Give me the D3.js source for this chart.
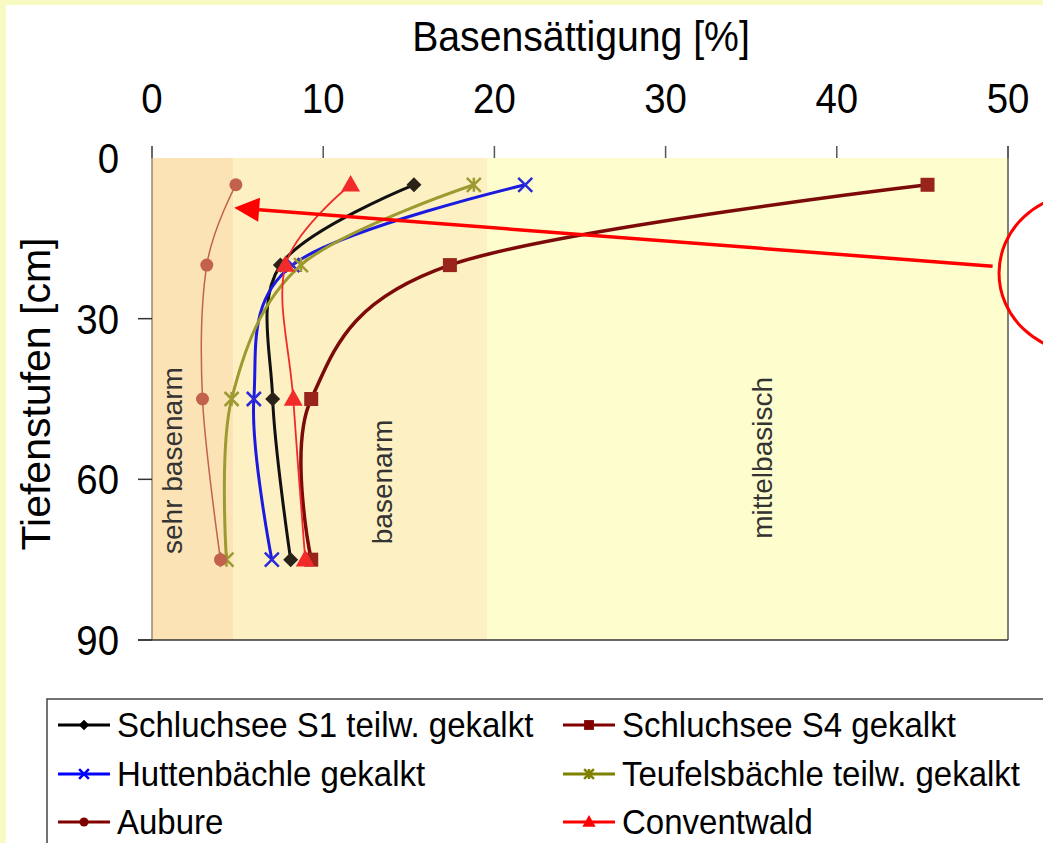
<!DOCTYPE html>
<html>
<head>
<meta charset="utf-8">
<script src="https://cdn.jsdelivr.net/npm/d3@7"></script>
<style>
  body { margin: 0; background: #f9f9c3; }
  svg { display: block; font-family: "Liberation Sans", Arial, sans-serif; }
</style>
</head>
<body>
<div id="chart"></div>
<script>
// depth steps (cm) and base saturation (%) per site
var depths = [5, 20, 45, 75];
var schluchseeS1 = [15.3, 7.5, 7.05, 8.1];
var schluchseeS4 = [45.3, 17.4, 9.3, 9.3];
var huttenbaechle = [21.8, 8.2, 5.95, 7.0];
var teufelsbaechle = [18.8, 8.7, 4.65, 4.35];
var aubure = [4.9, 3.2, 2.95, 4.0];
var conventwald = [11.6, 7.8, 8.25, 8.95];

var seriesNames = ["Schluchsee S1 teilw. gekalkt", "Schluchsee S4 gekalkt", "Huttenbächle gekalkt",
                   "Teufelsbächle teilw. gekalkt", "Aubure", "Conventwald"];

// classes of base saturation shaded behind the lines
var bandEdges = [0, 4.75, 19.6, 50];
var bandNames = ["sehr basenarm", "basenarm", "mittelbasisch"];

var xTicks = [0, 10, 20, 30, 40, 50];
var yTicks = [0, 30, 60, 90];

var width = 1043, height = 843;
var plotLeft = 152, plotRight = 1008, plotTop = 158, plotBottom = 640;

var x = d3.scaleLinear().domain([0, 50]).range([plotLeft, plotRight]);
var y = d3.scaleLinear().domain([0, 90]).range([plotTop, plotBottom]);

var svg = d3.select("#chart").append("svg")
    .attr("width", width)
    .attr("height", height);

svg.append("rect").attr("width", width).attr("height", height).attr("fill", "#f9f9c3");
svg.append("rect").attr("x", 6).attr("y", 5).attr("width", width).attr("height", height).attr("fill", "#ffffff");

// bands
var bandColors = ["#fce3b6", "#fdf0c2", "#fefdcd"];
var bands = bandNames.map(function(n, i) { return { name: n, from: bandEdges[i], to: bandEdges[i + 1] }; });
svg.append("g").selectAll("rect")
    .data(bands)
    .enter().append("rect")
    .attr("x", function(d) { return x(d.from); })
    .attr("width", function(d) { return x(d.to) - x(d.from); })
    .attr("y", y(0))
    .attr("height", y(90) - y(0))
    .attr("fill", function(d, i) { return bandColors[i]; });

// band labels (vertical)
var bandLabelPos = [[1.75, 56.5], [14.0, 60.5], [36.2, 56]];
svg.append("g").selectAll("text")
    .data(bands)
    .enter().append("text")
    .attr("transform", function(d, i) {
      return "translate(" + x(bandLabelPos[i][0]) + "," + y(bandLabelPos[i][1]) + ") rotate(-90)";
    })
    .attr("text-anchor", "middle")
    .attr("font-size", 28)
    .attr("fill", "#333")
    .text(function(d) { return d.name; });

// axes
var axisColor = "#555";
svg.append("line").attr("x1", plotLeft).attr("x2", plotLeft).attr("y1", plotTop - 12).attr("y2", plotBottom)
    .attr("stroke", "#9c8a6a").attr("stroke-width", 1.5);
svg.append("line").attr("x1", plotRight).attr("x2", plotRight).attr("y1", plotTop - 12).attr("y2", plotBottom)
    .attr("stroke", axisColor).attr("stroke-width", 1.5);
svg.append("line").attr("x1", plotLeft - 14).attr("x2", plotRight).attr("y1", plotBottom).attr("y2", plotBottom)
    .attr("stroke", "#333").attr("stroke-width", 1.5);

var xAxis = svg.append("g");
xAxis.selectAll("line").data(xTicks).enter().append("line")
    .attr("x1", function(d) { return x(d); }).attr("x2", function(d) { return x(d); })
    .attr("y1", plotTop - 12).attr("y2", plotTop)
    .attr("stroke", axisColor).attr("stroke-width", 1.5);
xAxis.selectAll("text").data(xTicks).enter().append("text")
    .attr("transform", function(d) { return "translate(" + x(d) + ",113) scale(0.96,1.08)"; })
    .attr("text-anchor", "middle")
    .attr("font-size", 40)
    .text(function(d) { return d; });

var yAxis = svg.append("g");
yAxis.selectAll("line").data(yTicks.filter(function(d) { return d > 0; })).enter().append("line")
    .attr("x1", plotLeft - 14).attr("x2", plotLeft)
    .attr("y1", function(d) { return y(d); }).attr("y2", function(d) { return y(d); })
    .attr("stroke", "#333").attr("stroke-width", 1.5);
yAxis.selectAll("text").data(yTicks).enter().append("text")
    .attr("transform", function(d) { return "translate(119," + (y(d) + 15) + ") scale(0.96,1.08)"; })
    .attr("text-anchor", "end")
    .attr("font-size", 40)
    .text(function(d) { return d; });

svg.append("text")
    .attr("transform", "translate(581,51) scale(0.98,1.08)")
    .attr("text-anchor", "middle")
    .attr("font-size", 40)
    .text("Basensättigung [%]");

svg.append("text")
    .attr("transform", "translate(50,394) rotate(-90)")
    .attr("text-anchor", "middle")
    .attr("font-size", 41)
    .text("Tiefenstufen [cm]");

// marker shapes
function marker(sel, type, s, color) {
  if (type === "diamond") {
    sel.append("path").attr("d", "M0," + (-s) + "L" + s + ",0L0," + s + "L" + (-s) + ",0Z").attr("fill", color);
  } else if (type === "square") {
    sel.append("rect").attr("x", -s).attr("y", -s).attr("width", 2 * s).attr("height", 2 * s).attr("fill", color);
  } else if (type === "x") {
    sel.append("path").attr("d", "M" + (-s) + "," + (-s) + "L" + s + "," + s + "M" + (-s) + "," + s + "L" + s + "," + (-s))
        .attr("stroke", color).attr("stroke-width", 2.5).attr("fill", "none");
  } else if (type === "star") {
    sel.append("path").attr("d", "M" + (-s) + "," + (-s) + "L" + s + "," + s + "M" + (-s) + "," + s + "L" + s + "," + (-s) +
        "M0," + (-s) + "L0," + s)
        .attr("stroke", color).attr("stroke-width", 2.5).attr("fill", "none");
  } else if (type === "circle") {
    sel.append("circle").attr("r", s).attr("fill", color);
  } else if (type === "triangle") {
    sel.append("path").attr("d", "M0," + (-s * 1.1) + "L" + (s * 1.05) + "," + (s * 0.75) + "L" + (-s * 1.05) + "," + (s * 0.75) + "Z")
        .attr("fill", color);
  }
}

var seriesValues = [schluchseeS1, schluchseeS4, huttenbaechle, teufelsbaechle, aubure, conventwald];
var lineColors = ["#111111", "#7d0a0a", "#1a1ae0", "#9c9a30", "#c2624c", "#f02a2a"];
var markerColors = ["#2a2218", "#99241c", "#2a2ad8", "#9c9a30", "#c2624c", "#f22a2a"];
var legendColors = ["#000000", "#800000", "#0000ff", "#808000", "#800000", "#ff0000"];
var markerTypes = ["diamond", "square", "x", "star", "circle", "triangle"];
var markerSizes = [7.5, 7, 7, 7, 6.5, 9];
var lineWidths = [3, 3.5, 3, 3, 1.5, 1.8];

var series = seriesNames.map(function(n, i) {
  return {
    name: n,
    points: seriesValues[i].map(function(v, j) { return { value: v, depth: depths[j] }; })
  };
});

var line = d3.line()
    .x(function(d) { return x(d.value); })
    .y(function(d) { return y(d.depth); })
    .curve(d3.curveCardinal.tension(0));

var lines = svg.append("g").selectAll("g")
    .data(series)
    .enter().append("g");

lines.append("path")
    .attr("d", function(d) { return line(d.points); })
    .attr("fill", "none")
    .attr("stroke", function(d, i) { return lineColors[i]; })
    .attr("stroke-width", function(d, i) { return lineWidths[i]; });

lines.each(function(d, i) {
  var g = d3.select(this);
  d.points.forEach(function(p) {
    var m = g.append("g").attr("transform", "translate(" + x(p.value) + "," + y(p.depth) + ")");
    marker(m, markerTypes[i], markerSizes[i], markerColors[i]);
  });
});

// red annotation arrow pointing at Aubure, plus ellipse at right edge
var arrowFrom = [x(49.1), y(20.2)];
var arrowTo = [x(4.8), y(9.3)];
var dx = arrowTo[0] - arrowFrom[0], dy = arrowTo[1] - arrowFrom[1];
var len = Math.sqrt(dx * dx + dy * dy);
var ux = dx / len, uy = dy / len;
var headLen = 25, headHalf = 12;
var bx = arrowTo[0] - ux * headLen, by = arrowTo[1] - uy * headLen;
svg.append("line")
    .attr("x1", arrowFrom[0]).attr("y1", arrowFrom[1])
    .attr("x2", bx).attr("y2", by)
    .attr("stroke", "#ff0000").attr("stroke-width", 3.5);
svg.append("path")
    .attr("d", "M" + arrowTo[0] + "," + arrowTo[1] +
               "L" + (bx - uy * headHalf) + "," + (by + ux * headHalf) +
               "L" + (bx + uy * headHalf) + "," + (by - ux * headHalf) + "Z")
    .attr("fill", "#ff0000");
svg.append("ellipse")
    .attr("cx", x(54.5)).attr("cy", y(21.5))
    .attr("rx", 86).attr("ry", 80)
    .attr("fill", "none").attr("stroke", "#ff0000").attr("stroke-width", 3);

// legend
var legend = svg.append("g");
legend.append("rect")
    .attr("x", 47).attr("y", 699)
    .attr("width", 1100).attr("height", 300)
    .attr("fill", "#fff").attr("stroke", "#444").attr("stroke-width", 1.5);

var legendCols = [58, 563];
var legendRows = [725, 774, 822];
var items = legend.selectAll("g.item")
    .data(series)
    .enter().append("g")
    .attr("transform", function(d, i) {
      return "translate(" + legendCols[i % 2] + "," + legendRows[Math.floor(i / 2)] + ")";
    });
items.append("line")
    .attr("x1", 0).attr("x2", 52)
    .attr("stroke", function(d, i) { return legendColors[i]; })
    .attr("stroke-width", 3);
items.each(function(d, i) {
  var m = d3.select(this).append("g").attr("transform", "translate(26,0)");
  marker(m, markerTypes[i], markerSizes[i] * 0.7, legendColors[i]);
});
items.append("text")
    .attr("transform", "translate(59,12) scale(1,1.06)")
    .attr("font-size", 33)
    .text(function(d) { return d.name; });
</script>
</body>
</html>
